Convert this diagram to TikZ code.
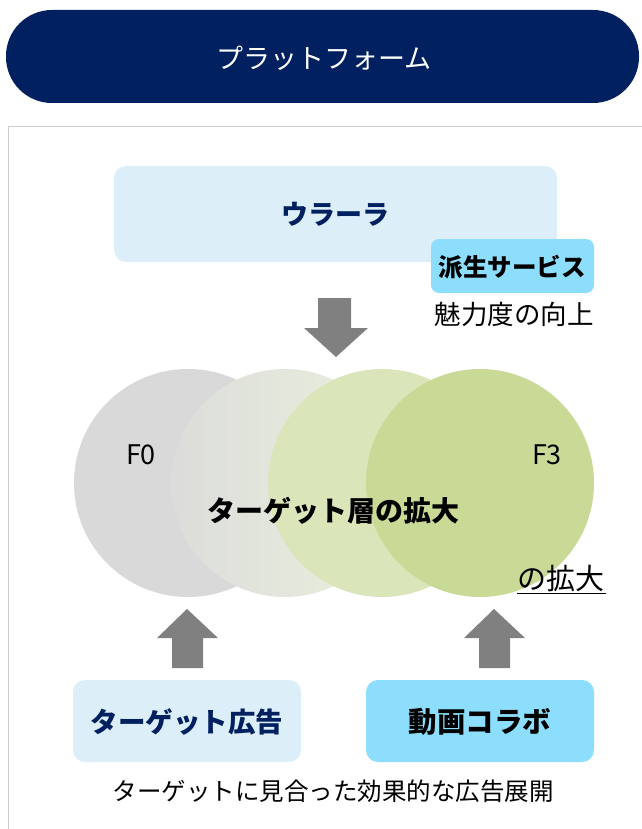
\documentclass[tikz,border=0pt]{standalone}
\usepackage{fontspec}
\setmainfont{Noto Sans CJK JP}
\definecolor{navy}{HTML}{002060}
\definecolor{paleblue}{HTML}{DCEEF8}
\definecolor{cyanbox}{HTML}{8CDEFC}
\definecolor{arrowgray}{HTML}{808080}
\definecolor{cgray}{HTML}{D9D9D9}
\definecolor{cgreenA}{HTML}{EBF1DE}
\definecolor{cgreenB}{HTML}{DAE6BA}
\definecolor{cgreenC}{HTML}{C9DA96}
\definecolor{panelborder}{HTML}{CCCCCC}
\tikzset{
  box/.style={rounded corners=12pt, inner sep=0pt},
  blockarrow/.style={fill=arrowgray, draw=none},
  ring/.style={circle, minimum size=228pt, inner sep=0pt, draw=none},
}
\begin{document}
\begin{tikzpicture}[x=1pt,y=-1pt]
\useasboundingbox (0,0) rectangle (641,829);
\fill[white] (0,0) rectangle (641,829);
% header pill
\fill[navy, rounded corners=46pt] (6,10) rectangle (639,103);
\node[text=white, font=\fontsize{27}{30}\selectfont] (title) at (324,58) {プラットフォーム};
% panel
\draw[panelborder, line width=1pt] (8,127) rectangle (650,840);
% top box
\fill[paleblue, box] (114,166) rectangle (557,262);
\node[text=navy, font=\bfseries\fontsize{27}{30}\selectfont] (urara) at (335,214) {ウラーラ};
\fill[cyanbox, rounded corners=8pt] (431,239) rectangle (594,293);
\node[text=black, font=\bfseries\fontsize{24.5}{28}\selectfont] (hasei) at (512,267) {派生サービス};
\node[text=black, font=\fontsize{26.5}{30}\selectfont] (miryoku) at (514,314) {魅力度の向上};
% down arrow
\fill[blockarrow] (318,298) -- (351,298) -- (351,328) -- (368,328) -- (336,357) -- (304,328) -- (318,328) -- cycle;
% circles
\node[ring, fill=cgray] (c0) at (188,483) {};
\node[ring, left color=cgray!85!cgreenA, right color=cgreenA, shading angle=90] (c1) at (285,483) {};
\node[ring, fill=cgreenB] (c2) at (382,483) {};
\node[ring, fill=cgreenC] (c3) at (480,483) {};
\node[font=\fontsize{27}{30}\selectfont] (f0) at (141,455) {F0};
\node[font=\fontsize{27}{30}\selectfont] (f3) at (547,455) {F3};
\node[font=\bfseries\fontsize{28}{32}\selectfont] (target) at (333,511) {ターゲット層の拡大};
\node[font=\fontsize{29}{32}\selectfont, inner sep=0pt] (kakudai) at (561,578) {の拡大};
\draw[line width=1pt] (517,593) -- (606,593);
% up arrows
\fill[blockarrow] (172,668) -- (203,668) -- (203,638) -- (218,638) -- (187,609) -- (157,638) -- (172,638) -- cycle;
\fill[blockarrow] (479,668) -- (510,668) -- (510,638) -- (525,638) -- (494,609) -- (464,638) -- (479,638) -- cycle;
% bottom boxes
\fill[paleblue, box] (73,680) rectangle (301,762);
\node[text=navy, font=\bfseries\fontsize{27.5}{30}\selectfont] (tad) at (187,722) {ターゲット広告};
\fill[cyanbox, box] (366,680) rectangle (594,762);
\node[text=black, font=\bfseries\fontsize{28.5}{30}\selectfont] (collab) at (480,722) {動画コラボ};
\node[text=black, font=\fontsize{24.5}{28}\selectfont] (bottom) at (333,791) {ターゲットに見合った効果的な広告展開};
\end{tikzpicture}
\end{document}
